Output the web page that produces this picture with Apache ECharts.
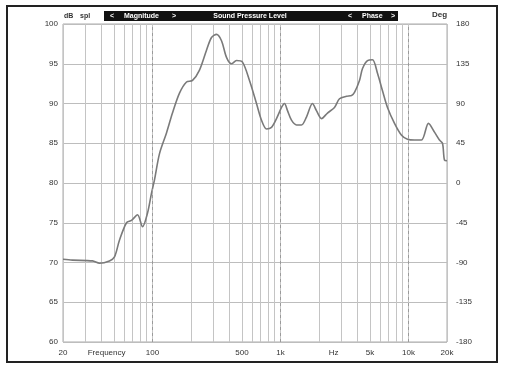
<!DOCTYPE html>
<html>
<head>
<meta charset="utf-8">
<script src="https://cdn.jsdelivr.net/npm/echarts@6/dist/echarts.min.js"></script>
<style>
html,body{margin:0;padding:0;background:#fff;}
#c{width:505px;height:367px;}
</style>
</head>
<body>
<div id="c"></div>
<script>
// Frequency (Hz) and magnitude (dB SPL)
const freqs = [20, 23.7, 34, 38.6, 46.1, 50.5, 55.2, 62.7, 68.6, 76.4, 83.6, 91.4, 98.2, 103.7, 113.5, 128.7, 143.3, 162.6, 184.5, 205.6, 233, 264.3, 289.2, 316.4, 346.2, 378.7, 414.3, 453.3, 504.9, 572.8, 649.8, 711, 777.9, 851.1, 931.2, 1019, 1075, 1135, 1219, 1334, 1459, 1596, 1778, 1910, 2092, 2330, 2643, 2891, 3280, 3589, 3787, 4143, 4375, 4786, 5236, 5728, 6266, 6855, 7780, 8830, 9820, 11144, 12647, 14330, 15966, 17466, 18446, 19100, 20000];
const spl = [70.4, 70.3, 70.2, 69.9, 70.2, 70.7, 72.8, 75.0, 75.3, 76.0, 74.5, 76.2, 78.7, 80.4, 83.7, 86.3, 88.8, 91.3, 92.7, 92.9, 94.2, 96.7, 98.3, 98.7, 97.9, 95.8, 95.0, 95.4, 95.2, 92.9, 90.0, 87.9, 86.8, 87.0, 88.1, 89.5, 90.0, 89.1, 87.9, 87.3, 87.3, 88.3, 90.0, 89.1, 88.1, 88.8, 89.5, 90.6, 90.9, 91.0, 91.4, 92.9, 94.4, 95.4, 95.5, 93.8, 91.6, 89.5, 87.5, 86.0, 85.5, 85.4, 85.4, 87.5, 86.4, 85.4, 85.0, 82.9, 82.8];

// Axes
const gridFreqs = [20, 30, 40, 50, 60, 70, 80, 90, 100, 200, 300, 400, 500, 600, 700, 800, 900, 1000, 2000, 3000, 4000, 5000, 6000, 7000, 8000, 9000, 10000, 20000];
const decadeFreqs = [100, 1000, 10000];
const xLabelFreqs = [20, 43.8, 100, 500, 1000, 2600, 5000, 10000, 20000];
const xLabelTexts = ['20', 'Frequency', '100', '500', '1k', 'Hz', '5k', '10k', '20k'];
const dbMin = 60, dbMax = 100, dbStep = 5;
const degMin = -180, degMax = 180, degStep = 45;

const chart = echarts.init(document.getElementById('c'), null, {renderer: 'canvas'});

function xLabel(v) {
  let best = 0, bd = Infinity;
  xLabelFreqs.forEach((f, i) => {
    const d = Math.abs(Math.log10(f) - Math.log10(v));
    if (d < bd) { bd = d; best = i; }
  });
  return xLabelTexts[best];
}

const txt = '#333';
chart.setOption({
  animation: false,
  backgroundColor: '#fff',
  grid: {left: 63, right: 58, top: 24, bottom: 25, show: true, borderColor: '#aaa', borderWidth: 1},
  xAxis: {
    type: 'log', logBase: 10, min: 20, max: 20000,
    axisLine: {show: false},
    axisTick: {show: false, customValues: gridFreqs},
    axisLabel: {customValues: xLabelFreqs, formatter: xLabel, color: txt, fontSize: 8, fontFamily: 'Liberation Sans', margin: 7},
    splitLine: {show: true, lineStyle: {color: '#c4c4c4', width: 1}}
  },
  yAxis: [{
    type: 'value', min: dbMin, max: dbMax, interval: dbStep,
    axisLine: {show: false}, axisTick: {show: false},
    axisLabel: {color: txt, fontSize: 8, fontFamily: 'Liberation Sans', margin: 5},
    splitLine: {show: true, lineStyle: {color: '#bdbdbd', width: 1.2}}
  }, {
    type: 'value', min: degMin, max: degMax, interval: degStep, position: 'right',
    axisLine: {show: false}, axisTick: {show: false},
    axisLabel: {color: txt, fontSize: 8, fontFamily: 'Liberation Sans', margin: 9},
    splitLine: {show: false}
  }],
  series: [{
    type: 'line',
    data: freqs.map((f, i) => [f, spl[i]]),
    showSymbol: false,
    smooth: 0.3,
    lineStyle: {color: '#7a7a7a', width: 1.6},
    markLine: {
      silent: true, symbol: 'none', label: {show: false},
      lineStyle: {color: '#9a9a9a', type: [3, 3], width: 1},
      data: decadeFreqs.map(f => ({xAxis: f}))
    }
  }],
  graphic: [
    {type: 'rect', shape: {x: 7, y: 6, width: 490, height: 356}, style: {fill: 'none', stroke: '#222', lineWidth: 2}, z: 10},
    {type: 'rect', shape: {x: 104, y: 11, width: 294, height: 10}, style: {fill: '#111'}},
    {type: 'text', x: 110, y: 16, style: {text: '<', fill: '#fff', font: 'bold 7px Liberation Sans', verticalAlign: 'middle'}},
    {type: 'text', x: 124, y: 16, style: {text: 'Magnitude', fill: '#fff', font: 'bold 7px Liberation Sans', verticalAlign: 'middle'}},
    {type: 'text', x: 172, y: 16, style: {text: '>', fill: '#fff', font: 'bold 7px Liberation Sans', verticalAlign: 'middle'}},
    {type: 'text', x: 250, y: 16, style: {text: 'Sound Pressure Level', fill: '#fff', font: 'bold 7px Liberation Sans', align: 'center', verticalAlign: 'middle'}},
    {type: 'text', x: 348, y: 16, style: {text: '<', fill: '#fff', font: 'bold 7px Liberation Sans', verticalAlign: 'middle'}},
    {type: 'text', x: 362, y: 16, style: {text: 'Phase', fill: '#fff', font: 'bold 7px Liberation Sans', verticalAlign: 'middle'}},
    {type: 'text', x: 391, y: 16, style: {text: '>', fill: '#fff', font: 'bold 7px Liberation Sans', verticalAlign: 'middle'}},
    {type: 'text', x: 64, y: 16, style: {text: 'dB', fill: '#333', font: 'bold 7px Liberation Sans', verticalAlign: 'middle'}},
    {type: 'text', x: 80, y: 16, style: {text: 'spl', fill: '#333', font: 'bold 7px Liberation Sans', verticalAlign: 'middle'}},
    {type: 'text', x: 432, y: 15, style: {text: 'Deg', fill: '#333', font: 'bold 8px Liberation Sans', verticalAlign: 'middle'}}
  ]
});
</script>
</body>
</html>
